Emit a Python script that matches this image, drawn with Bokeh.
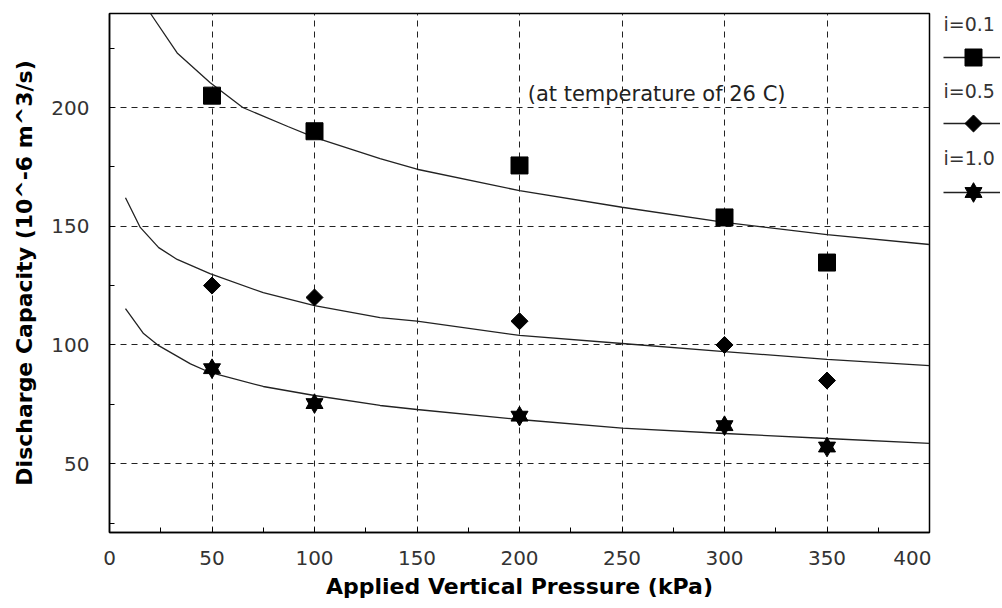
import math
from bokeh.plotting import figure
from bokeh.layouts import row
from bokeh.models import FixedTicker, Range1d, Label
from bokeh.embed import file_html
from bokeh.resources import INLINE

# ---- data ----
pressure = [50, 100, 200, 300, 350]
q_i01 = [205, 190, 175.6, 153.7, 134.7]
q_i05 = [125, 120, 110, 100, 85]
q_i10 = [90, 75.3, 70, 66, 57]

fit_x_01 = [20, 33, 49, 65, 87, 100, 132, 150, 200, 250, 300, 350, 400]
fit_y_01 = [239.6, 223, 210.5, 200, 192, 187.4, 178.5, 174, 165, 158, 151.6, 146.5, 142.3]
fit_x_05 = [7.8, 15, 24, 33, 49, 75, 100, 132, 150, 200, 250, 300, 350, 400]
fit_y_05 = [162, 149.5, 141, 136, 130, 122, 116.6, 111.5, 110, 104, 100.6, 97.2, 93.9, 91.3]
fit_x_10 = [7.8, 16.6, 24, 39.5, 49, 75, 100, 132, 150, 200, 250, 300, 350, 400]
fit_y_10 = [115.3, 104.8, 99.7, 92, 88.4, 82.5, 78.7, 74.5, 72.8, 68.6, 65, 62.7, 60.6, 58.5]

series_labels = ["i=0.1", "i=0.5", "i=1.0"]
x_ticks = [0, 50, 100, 150, 200, 250, 300, 350, 400]
x_minor = [25, 75, 125, 175, 225, 275, 325, 375]
y_ticks = [50, 100, 150, 200]
y_minor = [25, 75, 125, 175, 225]
note_text = "(at temperature of 26 C)"

W_MAIN = 931
H = 606
TOP = 13
BOTTOM_BORDER = 74

p = figure(width=W_MAIN, height=H, output_backend="svg", toolbar_location=None,
           x_range=Range1d(0, 400), y_range=Range1d(21, 239.6),
           min_border_left=109, min_border_top=TOP, min_border_right=2,
           min_border_bottom=BOTTOM_BORDER,
           background_fill_color="white", border_fill_color="white")
p.outline_line_color = "black"
p.outline_line_width = 1.5

for ax, tk, mn in ((p.xaxis[0], x_ticks, x_minor), (p.yaxis[0], y_ticks, y_minor)):
    ax.ticker = FixedTicker(ticks=tk, minor_ticks=mn)
    ax.axis_line_color = "black"
    ax.axis_line_width = 1.5
    ax.major_tick_in = 5
    ax.major_tick_out = 0
    ax.minor_tick_in = 5
    ax.minor_tick_out = 0
    ax.major_tick_line_color = "black"
    ax.minor_tick_line_color = "black"
    ax.major_label_text_font = "DejaVu Sans"
    ax.major_label_text_font_size = "20px"
    ax.major_label_text_color = "#333333"
    ax.axis_label_text_font = "DejaVu Sans"
    ax.axis_label_text_font_style = "bold"
    ax.axis_label_text_font_size = "22px"
    ax.axis_label_text_color = "black"

p.xaxis.axis_label = "Applied Vertical Pressure (kPa)"
p.yaxis.axis_label = "Discharge Capacity (10^-6 m^3/s)"
p.xaxis.major_label_standoff = 18
p.yaxis.major_label_standoff = 20
p.xaxis.axis_label_standoff = 6
p.yaxis.axis_label_standoff = 11

p.xgrid.ticker = FixedTicker(ticks=[50, 100, 150, 200, 250, 300, 350])
p.ygrid.ticker = FixedTicker(ticks=y_ticks)
for g in (p.xgrid[0], p.ygrid[0]):
    g.grid_line_color = "#222222"
    g.grid_line_dash = "6 5"
    g.grid_line_width = 1

lc = "#222222"
LINE = dict(line_color=lc, line_width=1.3)
SQ = dict(marker="square", size=17, fill_color="black", line_color="black")
DI = dict(marker="square", angle=math.pi / 4, size=12, fill_color="black", line_color="black")
TU = dict(marker="triangle", size=17, fill_color="black", line_color="black")
TD = dict(marker="inverted_triangle", size=17, fill_color="black", line_color="black")

p.line(fit_x_01, fit_y_01, **LINE)
p.line(fit_x_05, fit_y_05, **LINE)
p.line(fit_x_10, fit_y_10, **LINE)
p.scatter(pressure, q_i01, **SQ)
p.scatter(pressure, q_i05, **DI)
p.scatter(pressure, q_i10, **TU)
p.scatter(pressure, q_i10, **TD)

p.add_layout(Label(x=204, y=205.5, text=note_text, text_font="DejaVu Sans",
                   text_font_size="21px", text_color="#222222", text_baseline="middle",
                   text_align="left"))

# ---- legend panel: narrow figure to the right of the frame ----
# (the row aligns its frame with the main frame, so its y range spans the frame's page rows)
W_LEG = 1000 - W_MAIN
q = figure(width=W_LEG, height=H, output_backend="svg", toolbar_location=None,
           x_range=Range1d(0, W_LEG), y_range=Range1d(H - BOTTOM_BORDER, TOP),
           min_border=0, background_fill_color="white", border_fill_color="white",
           outline_line_color=None)
q.axis.visible = False
q.grid.visible = False

leg_text_y = [23, 90, 157]
leg_glyph_y = [57, 123, 192]
leg_left = 12
leg_mark_x = 42

for lab, ty in zip(series_labels, leg_text_y):
    q.add_layout(Label(x=leg_left, y=ty, text=lab, text_font="DejaVu Sans",
                       text_font_size="19px", text_color="#333333",
                       text_baseline="middle", text_align="left"))

q.segment(x0=[leg_left] * 3, x1=[W_LEG] * 3, y0=leg_glyph_y, y1=leg_glyph_y, **LINE)
q.scatter([leg_mark_x], [leg_glyph_y[0]], **SQ)
q.scatter([leg_mark_x], [leg_glyph_y[1]], **DI)
q.scatter([leg_mark_x], [leg_glyph_y[2]], **TU)
q.scatter([leg_mark_x], [leg_glyph_y[2]], **TD)

layout = row(p, q, spacing=0)
open("out.html", "w").write(file_html(layout, INLINE))
